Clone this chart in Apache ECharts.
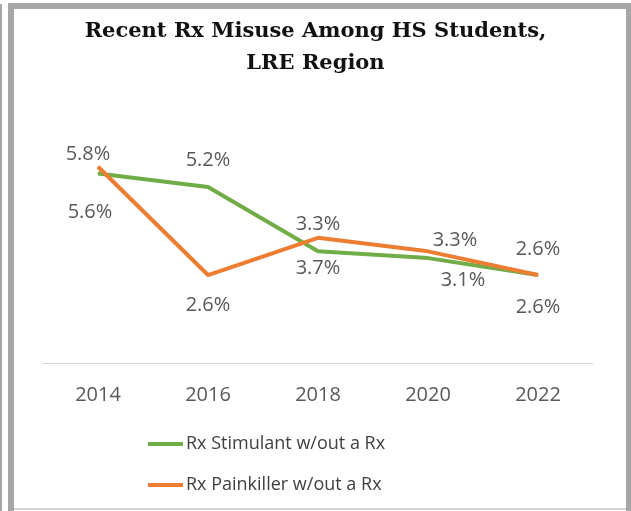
<!DOCTYPE html>
<html>
<head>
<meta charset="utf-8">
<script src="https://cdn.jsdelivr.net/npm/echarts@6/dist/echarts.min.js"></script>
<style>
  html, body { margin: 0; padding: 0; background: #fff; }
  #chart { width: 631px; height: 511px; }
</style>
</head>
<body>
<div id="chart"></div>
<script>
    var years = ['2014', '2016', '2018', '2020', '2022'];
    var stimulant = [5.6, 5.2, 3.3, 3.1, 2.6];
    var painkiller = [5.8, 2.6, 3.7, 3.3, 2.6];

    // where each value label sits, relative to its point
    var stimulantLabelShift = [[-8, 39], [0, -27], [0, -27], [35, 22], [0, 32]];
    var painkillerLabelShift = [[-10, -12], [0, 30], [0, 30], [27, -11], [0, -26]];

    var dom = document.getElementById('chart');
    var myChart = echarts.init(dom, null, { renderer: 'canvas' });

    function withLabels(values, shifts) {
        return values.map(function (v, i) {
            return { value: v, label: { offset: shifts[i] } };
        });
    }

    var frame = '#a6a6a6';

    var option = {
        backgroundColor: '#fff',
        title: {
            text: 'Recent Rx Misuse Among HS Students,\nLRE Region',
            left: 'center',
            top: 11,
            textStyle: {
                fontFamily: 'DejaVu Serif',
                fontWeight: 'bold',
                fontSize: 21,
                lineHeight: 32,
                color: '#111'
            }
        },
        graphic: [
            { type: 'rect', shape: { x: 0, y: 4, width: 2, height: 507 }, style: { fill: frame } },
            { type: 'rect', shape: { x: 8, y: 3, width: 6, height: 508 }, style: { fill: frame } },
            { type: 'rect', shape: { x: 8, y: 3, width: 623, height: 6 }, style: { fill: frame } },
            { type: 'rect', shape: { x: 626, y: 3, width: 5, height: 508 }, style: { fill: frame } },
            { type: 'rect', shape: { x: 14, y: 508, width: 612, height: 2 }, style: { fill: '#d4d4d4' } }
        ],
        legend: {
            orient: 'vertical',
            left: 143,
            top: 430,
            itemWidth: 35,
            itemHeight: 4,
            itemGap: 23,
            icon: 'rect',
            textStyle: {
                fontFamily: 'Open Sans',
                fontSize: 18,
                color: '#404040',
                padding: [0, 0, 0, -2]
            },
            data: ['Rx Stimulant w/out a Rx', 'Rx Painkiller w/out a Rx']
        },
        grid: {
            left: 43,
            right: 38,
            top: 160,
            bottom: 148
        },
        xAxis: {
            type: 'category',
            data: years,
            axisLine: { lineStyle: { color: '#d9d9d9', width: 1 } },
            axisTick: { show: false },
            axisLabel: {
                margin: 22,
                fontFamily: 'Open Sans',
                fontSize: 20,
                color: '#595959'
            }
        },
        yAxis: {
            type: 'value',
            min: 0,
            max: 6,
            show: false,
            splitLine: { show: false }
        },
        series: [
            {
                name: 'Rx Stimulant w/out a Rx',
                type: 'line',
                data: withLabels(stimulant, stimulantLabelShift),
                symbol: 'circle',
                symbolSize: 1,
                color: '#70ad47',
                lineStyle: { width: 4, color: '#70ad47' },
                label: {
                    show: true,
                    position: 'inside',
                    formatter: '{c}%',
                    fontFamily: 'Open Sans',
                    fontSize: 20,
                    color: '#595959'
                },
                z: 2
            },
            {
                name: 'Rx Painkiller w/out a Rx',
                type: 'line',
                data: withLabels(painkiller, painkillerLabelShift),
                symbol: 'circle',
                symbolSize: 1,
                color: '#ed7d31',
                lineStyle: { width: 4, color: '#ed7d31' },
                label: {
                    show: true,
                    position: 'inside',
                    formatter: '{c}%',
                    fontFamily: 'Open Sans',
                    fontSize: 20,
                    color: '#595959'
                },
                z: 3
            }
        ]
    };

    option && myChart.setOption(option);
</script>
</body>
</html>
